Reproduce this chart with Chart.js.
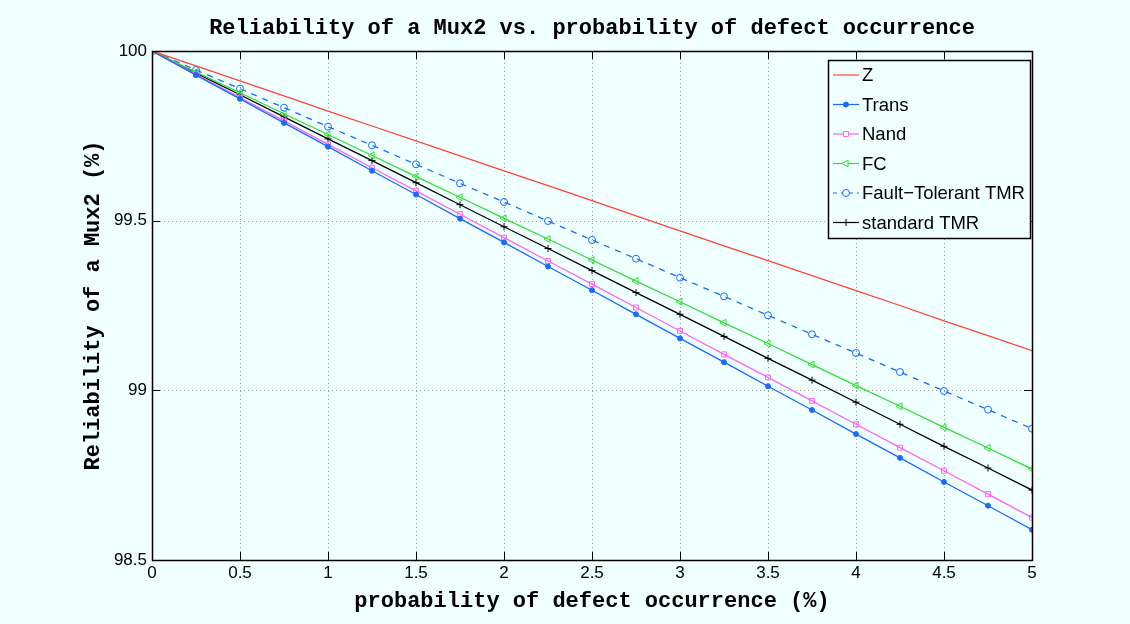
<!DOCTYPE html>
<html>
<head>
<meta charset="utf-8">
<script src="https://cdn.jsdelivr.net/npm/chart.js@4/dist/chart.umd.min.js"></script>
<style>
  html, body { margin: 0; padding: 0; background: #f0ffff; }
  #wrap { width: 1130px; height: 624px; position: relative; }
</style>
</head>
<body>
<div id="wrap"><canvas id="chart"></canvas></div>
<script>
// probability of defect occurrence (%)
const xValues = [0, 0.25, 0.5, 0.75, 1, 1.25, 1.5, 1.75, 2, 2.25, 2.5, 2.75, 3, 3.25, 3.5, 3.75, 4, 4.25, 4.5, 4.75, 5];

// reliability (%)
const zVals = [100, 99.956, 99.912, 99.868, 99.823, 99.779, 99.735, 99.691, 99.647, 99.603, 99.559,
  99.514, 99.470, 99.426, 99.382, 99.338, 99.294, 99.250, 99.205, 99.161, 99.117];
const transVals = [100, 99.929, 99.859, 99.788, 99.718, 99.647, 99.577, 99.506, 99.436, 99.365, 99.295,
  99.224, 99.153, 99.083, 99.012, 98.942, 98.871, 98.801, 98.730, 98.660, 98.589];
const nandVals = [100, 99.931, 99.863, 99.794, 99.725, 99.656, 99.588, 99.519, 99.450, 99.381, 99.313,
  99.244, 99.175, 99.106, 99.038, 98.969, 98.900, 98.831, 98.763, 98.694, 98.625];
const fcVals = [100, 99.938, 99.877, 99.815, 99.754, 99.692, 99.630, 99.569, 99.507, 99.446, 99.384,
  99.322, 99.261, 99.199, 99.138, 99.076, 99.014, 98.953, 98.891, 98.830, 98.768];
const ftTmrVals = [100, 99.944, 99.889, 99.833, 99.777, 99.722, 99.666, 99.610, 99.555, 99.499, 99.443,
  99.388, 99.332, 99.277, 99.221, 99.165, 99.110, 99.054, 98.998, 98.943, 98.887];
const stdTmrVals = [100, 99.935, 99.871, 99.806, 99.741, 99.677, 99.612, 99.547, 99.482, 99.418, 99.353,
  99.288, 99.224, 99.159, 99.094, 99.030, 98.965, 98.900, 98.835, 98.771, 98.706];

const xTicks = [0, 0.5, 1, 1.5, 2, 2.5, 3, 3.5, 4, 4.5, 5];
const yTicks = [98.5, 99, 99.5, 100];

const TITLE = "Reliability of a Mux2 vs. probability of defect occurrence";

const BG = "#f0ffff";
const SANS = "'Liberation Sans', Arial, sans-serif";
const MONO = "'Liberation Mono', 'Courier New', monospace";
const TICK_FONT = { family: SANS, size: 17 };

const toPts = vals => vals.map((v, i) => ({ x: xValues[i], y: v }));

const series = [
  { label: "Z", data: zVals, color: "#ff4433", style: false, fill: false, dash: [] },
  { label: "Trans", data: transVals, color: "#1a6aff", style: "circle", radius: 2.5, fill: true, dash: [] },
  { label: "Nand", data: nandVals, color: "#ff66ee", style: "rect", radius: 3.5, fill: false, dash: [] },
  { label: "FC", data: fcVals, color: "#33dd33", style: "triangle", rot: -90, radius: 4, fill: false, dash: [] },
  { label: "Fault\u2212Tolerant TMR", data: ftTmrVals, color: "#1a6aff", style: "circle", radius: 3.5, fill: false, dash: [6, 6] },
  { label: "standard TMR", data: stdTmrVals, color: "#000000", style: "cross", radius: 3.5, fill: false, dash: [] },
];

// MATLAB-like frame: dotted grid, boxed axes, inward ticks, title over the axes
const framePlugin = {
  id: "frame",
  beforeDraw(chart) {
    const { ctx, width, height, chartArea: a } = chart;
    ctx.save();
    ctx.fillStyle = BG;
    ctx.fillRect(0, 0, width, height);
    ctx.fillStyle = "#000";
    ctx.font = "bold 22px " + MONO;
    ctx.textAlign = "center";
    ctx.textBaseline = "middle";
    ctx.fillText(TITLE, (a.left + a.right) / 2, 28);
    ctx.restore();
  },
  beforeDatasetsDraw(chart) {
    const { ctx, chartArea: a, scales: { x, y } } = chart;
    ctx.save();
    ctx.strokeStyle = "#999";
    ctx.lineWidth = 1;
    ctx.setLineDash([1, 3]);
    xTicks.forEach(t => {
      const px = Math.round(x.getPixelForValue(t)) + 0.5;
      ctx.beginPath(); ctx.moveTo(px, a.top); ctx.lineTo(px, a.bottom); ctx.stroke();
    });
    yTicks.forEach(t => {
      const py = Math.round(y.getPixelForValue(t)) + 0.5;
      ctx.beginPath(); ctx.moveTo(a.left, py); ctx.lineTo(a.right, py); ctx.stroke();
    });
    ctx.restore();
  },
  afterDatasetsDraw(chart) {
    const { ctx, chartArea: a, scales: { x, y } } = chart;
    ctx.save();
    ctx.strokeStyle = "#000";
    ctx.lineWidth = 1;
    const len = 8;
    xTicks.forEach(t => {
      const px = Math.round(x.getPixelForValue(t)) + 0.5;
      ctx.beginPath();
      ctx.moveTo(px, a.bottom); ctx.lineTo(px, a.bottom - len);
      ctx.moveTo(px, a.top); ctx.lineTo(px, a.top + len);
      ctx.stroke();
    });
    yTicks.forEach(t => {
      const py = Math.round(y.getPixelForValue(t)) + 0.5;
      ctx.beginPath();
      ctx.moveTo(a.left, py); ctx.lineTo(a.left + len, py);
      ctx.moveTo(a.right, py); ctx.lineTo(a.right - len, py);
      ctx.stroke();
    });
    ctx.lineWidth = 1.5;
    ctx.strokeRect(Math.round(a.left) + 0.5, Math.round(a.top) + 0.5,
      Math.round(a.right - a.left), Math.round(a.bottom - a.top));
    ctx.restore();
  },
};

// legend box inside the plot, top-right
const legendPlugin = {
  id: "boxLegend",
  afterDraw(chart) {
    const { ctx } = chart;
    const bx = 828, by = 60, bw = 202, bh = 178;
    ctx.save();
    ctx.fillStyle = BG;
    ctx.fillRect(bx, by, bw, bh);
    ctx.strokeStyle = "#000";
    ctx.lineWidth = 1.5;
    ctx.strokeRect(bx + 0.5, by + 0.5, bw, bh);
    ctx.font = "18.5px " + SANS;
    ctx.textBaseline = "middle";
    series.forEach((s, i) => {
      const yy = by + 15 + i * 29.5;
      ctx.strokeStyle = s.color;
      ctx.lineWidth = 1.2;
      ctx.setLineDash(s.dash.length ? [4, 4] : []);
      ctx.beginPath(); ctx.moveTo(833, yy); ctx.lineTo(859, yy); ctx.stroke();
      ctx.setLineDash([]);
      if (s.style) {
        ctx.lineWidth = 1;
        ctx.strokeStyle = s.color;
        ctx.fillStyle = s.fill ? s.color : BG;
        Chart.helpers.drawPoint(ctx, {
          pointStyle: s.style, radius: s.radius, rotation: s.rot || 0, borderWidth: 1,
        }, 846, yy);
      }
      ctx.fillStyle = "#000";
      ctx.fillText(s.label, 862, yy + 1);
    });
    ctx.restore();
  },
};

const fmtTick = v => String(Math.round(v * 10) / 10);

new Chart(document.getElementById("chart"), {
  type: "line",
  data: {
    datasets: series.map(s => ({
      label: s.label,
      data: toPts(s.data),
      borderColor: s.color,
      backgroundColor: s.fill ? s.color : "rgba(0,0,0,0)",
      borderWidth: 1.3,
      borderDash: s.dash,
      pointStyle: s.style,
      pointRotation: s.rot || 0,
      pointRadius: s.style ? s.radius : 0,
      pointBorderColor: s.color,
      pointBackgroundColor: s.fill ? s.color : "rgba(0,0,0,0)",
      pointBorderWidth: 1,
      tension: 0,
    })),
  },
  options: {
    responsive: true,
    maintainAspectRatio: false,
    animation: false,
    layout: { padding: { top: 51, right: 98, left: 79, bottom: 9 } },
    plugins: {
      legend: { display: false },
      tooltip: { enabled: false },
      title: { display: false },
    },
    scales: {
      x: {
        type: "linear",
        min: 0, max: 5,
        afterBuildTicks: s => { s.ticks = xTicks.map(v => ({ value: v })); },
        afterFit: s => { s.height = 55; },
        grid: { display: false, drawTicks: false },
        border: { display: false },
        ticks: { color: "#000", font: TICK_FONT, padding: 3, maxRotation: 0, autoSkip: false, callback: fmtTick },
        title: {
          display: true,
          text: "probability of defect occurrence (%)",
          color: "#000",
          font: { family: MONO, size: 22, weight: "bold", lineHeight: 1.2 },
          padding: { top: 0, bottom: 0 },
        },
      },
      y: {
        type: "linear",
        min: 98.5, max: 100,
        afterBuildTicks: s => { s.ticks = yTicks.map(v => ({ value: v })); },
        afterFit: s => { s.width = 73; },
        grid: { display: false, drawTicks: false },
        border: { display: false },
        ticks: { color: "#000", font: TICK_FONT, padding: 5, callback: fmtTick },
        title: {
          display: true,
          text: "Reliability of a Mux2 (%)",
          color: "#000",
          font: { family: MONO, size: 22, weight: "bold", lineHeight: 1.2 },
          padding: { top: 1, bottom: 0 },
        },
      },
    },
  },
  plugins: [framePlugin, legendPlugin],
});
</script>
</body>
</html>
